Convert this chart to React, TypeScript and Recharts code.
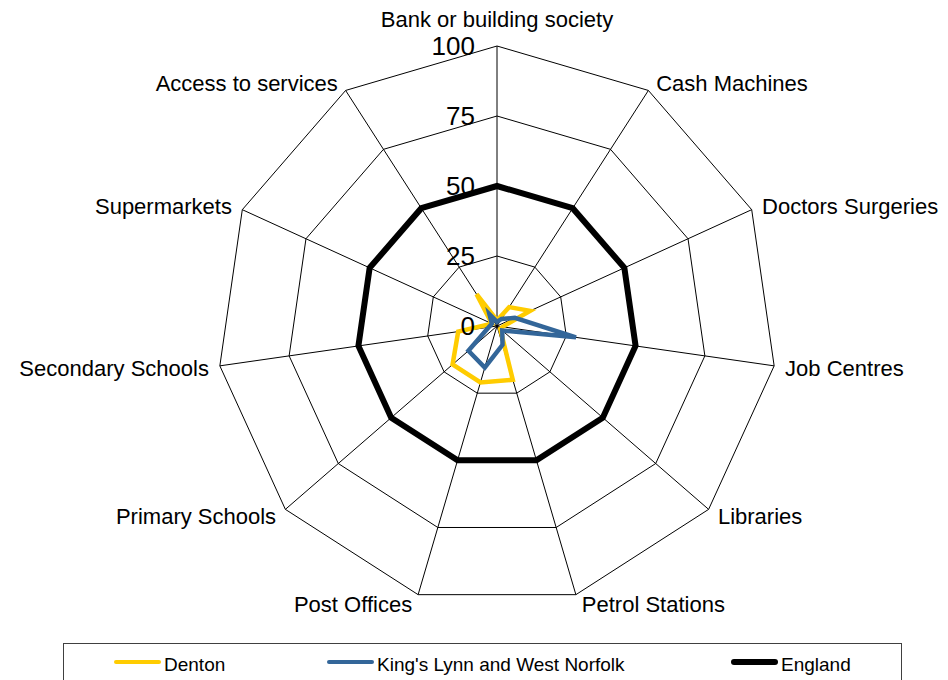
import { RadarChart, Radar, PolarGrid, PolarAngleAxis, PolarRadiusAxis, Legend } from 'recharts';

const categories = [
    'Bank or building society',
    'Cash Machines',
    'Doctors Surgeries',
    'Job Centres',
    'Libraries',
    'Petrol Stations',
    'Post Offices',
    'Primary Schools',
    'Secondary Schools',
    'Supermarkets',
    'Access to services',
];

const denton = [2, 8, 13, 2, 1.5, 20, 21, 21, 14, 2, 13.5];
const kingsLynn = [1.5, 3, 7, 28.5, 2.5, 7, 15.5, 13.5, 3, 2, 5];
const england = [50, 50, 50, 50, 50, 50, 50, 50, 50, 50, 50];

const radiusTicks = [0, 25, 50, 75, 100];

const SERIES = [
    { key: 'denton', name: 'Denton', color: '#FFCC00', width: 4.5 },
    { key: 'kingsLynn', name: "King's Lynn and West Norfolk", color: '#336699', width: 4.5 },
    { key: 'england', name: 'England', color: '#000000', width: 6 },
];

const data = categories.map((category, i) => ({
    category,
    denton: denton[i],
    kingsLynn: kingsLynn[i],
    england: england[i],
}));

const FONT = '"Liberation Sans", Arial, sans-serif';
const CX = 497;
const CY = 326;
const OUTER = 280;

// category labels sit just outside the outer ring, anchored away from the centre
const AngleTick = ({ payload }: any) => {
    const idx = categories.indexOf(payload.value);
    const deg = 90 - (idx * 360) / categories.length;
    const rad = (deg * Math.PI) / 180;
    const cos = Math.cos(rad);
    const sin = Math.sin(rad);
    const ex = CX + OUTER * cos;
    const ey = CY - OUTER * sin;

    if (idx === 0) {
        return (
            <text x={ex} y={ey - 27} textAnchor="middle" dominantBaseline="central"
                fontFamily={FONT} fontSize={22} fill="#000">
                {payload.value}
            </text>
        );
    }
    const side = cos > 0 ? 1 : -1;
    const dx = side * (4 + 7 * Math.abs(cos));
    return (
        <text x={ex + dx} y={ey + 1 - 9 * sin} textAnchor={cos > 0 ? 'start' : 'end'}
            dominantBaseline="central" fontFamily={FONT} fontSize={22} fill="#000">
            {payload.value}
        </text>
    );
};

const RadiusTick = ({ x, y, payload }: any) => (
    <text x={x - 22} y={y} textAnchor="end" dominantBaseline="central"
        fontFamily={FONT} fontSize={26} fill="#000">
        {payload.value}
    </text>
);

const LEGEND_X = [50, 263, 667];

const renderLegend = () => (
    <div style={{
        position: 'relative', width: 839, height: 50, boxSizing: 'border-box',
        border: '1px solid #404040', fontFamily: FONT, fontSize: 19, color: '#000',
    }}>
        {SERIES.map((s, i) => (
            <div key={s.key}>
                <span style={{
                    position: 'absolute', left: LEGEND_X[i], top: 18 - s.width / 2,
                    width: 47, height: s.width, borderRadius: s.width / 2, background: s.color,
                }} />
                <span style={{
                    position: 'absolute', left: LEGEND_X[i] + 50, top: 10,
                    lineHeight: '22px', whiteSpace: 'nowrap',
                }}>
                    {s.name}
                </span>
            </div>
        ))}
    </div>
);

export default function App() {
    return (
        <div style={{ position: 'absolute', left: 0, top: 0, width: 948, height: 680, overflow: 'hidden', background: '#fff' }}>
            <RadarChart
                width={948}
                height={680}
                data={data}
                cx={CX}
                cy={CY}
                outerRadius={OUTER}
                margin={{ top: 0, right: 0, bottom: 0, left: 0 }}
            >
                <PolarGrid gridType="polygon" stroke="#000" strokeWidth={1} />
                <PolarAngleAxis dataKey="category" tick={<AngleTick />} tickLine={false} axisLine={false} />
                <PolarRadiusAxis
                    angle={90}
                    domain={[0, 100]}
                    tickCount={radiusTicks.length}
                    tick={<RadiusTick />}
                    axisLine={false}
                    tickLine={false}
                />
                {SERIES.map((s) => (
                    <Radar
                        key={s.key}
                        name={s.name}
                        dataKey={s.key}
                        stroke={s.color}
                        strokeWidth={s.width}
                        strokeLinejoin="miter"
                        fill="none"
                        fillOpacity={0}
                        dot={false}
                        isAnimationActive={false}
                    />
                ))}
                <Legend
                    content={renderLegend}
                    wrapperStyle={{ position: 'absolute', left: 63, top: 643, width: 839, height: 50 }}
                />
            </RadarChart>
        </div>
    );
}
